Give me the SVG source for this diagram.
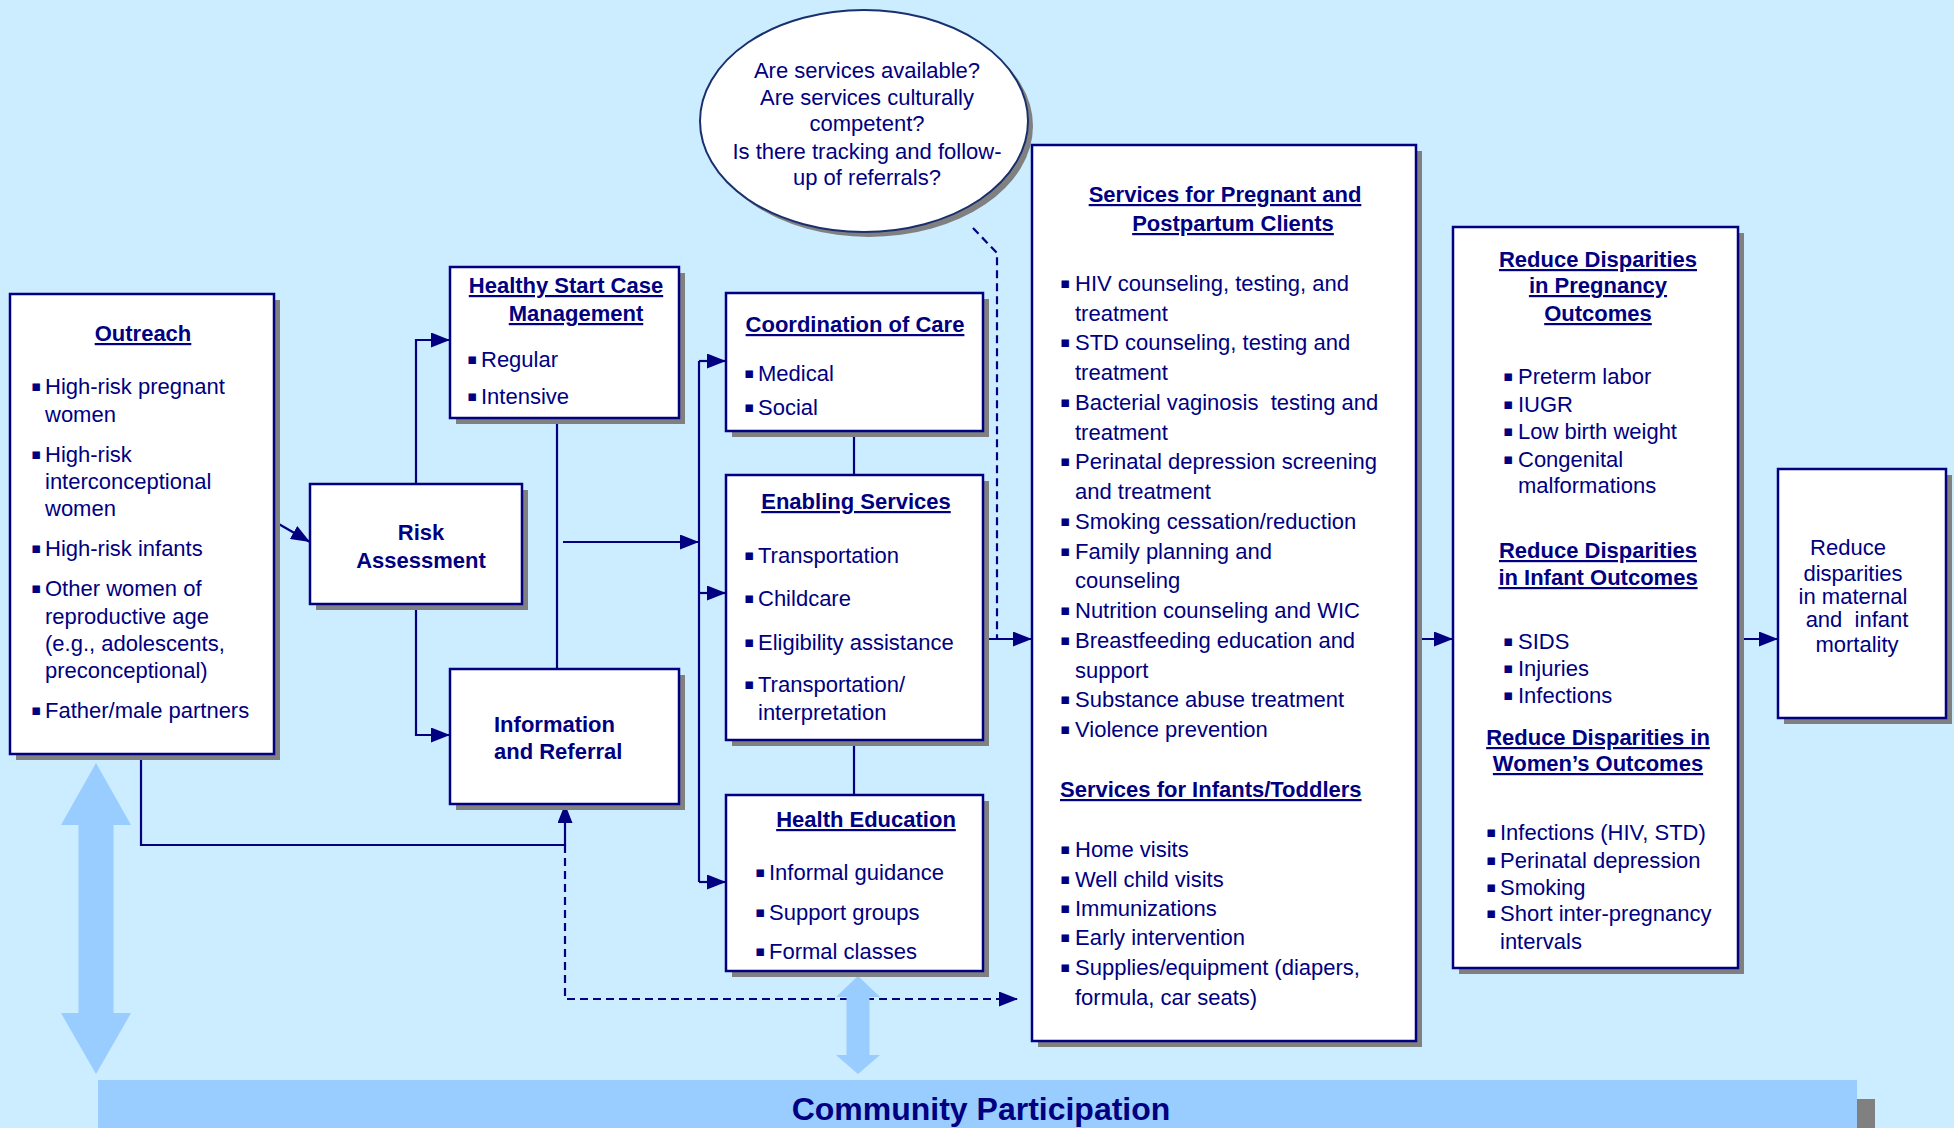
<svg xmlns="http://www.w3.org/2000/svg" width="1954" height="1128" viewBox="0 0 1954 1128">
<defs>
<style>
.box{fill:#fff;stroke:#000080;stroke-width:2.5}
.sh{fill:#808080}
.t{font-family:"Liberation Sans",Arial,sans-serif;font-size:22px;fill:#000080}
.b{font-weight:bold}
.u{text-decoration:underline}
.c{text-anchor:middle}
.bu{font-family:"DejaVu Sans",sans-serif;font-size:15px}
.ln{stroke:#000080;stroke-width:2.2;fill:none}
.da{stroke-dasharray:8 5}
.big{fill:#99CCFF}
</style>
<marker id="ah" markerUnits="userSpaceOnUse" markerWidth="19" markerHeight="15" refX="19" refY="7.5" orient="auto">
<path d="M0,0 L19,7.5 L0,15 z" fill="#000080"/>
</marker>
</defs>
<rect width="1954" height="1128" fill="#CCECFF"/>

<g id="connectors">
<line class="ln" x1="277" y1="523" x2="310" y2="542" marker-end="url(#ah)"/>
<path class="ln" d="M416,484 V340 H450" marker-end="url(#ah)"/>
<path class="ln" d="M416,604 V735 H450" marker-end="url(#ah)"/>
<path class="ln" d="M557,418 V669"/>
<path class="ln" d="M563,542 H699" marker-end="url(#ah)"/>
<path class="ln" d="M699,361 V882"/>
<path class="ln" d="M699,361 H726" marker-end="url(#ah)"/>
<path class="ln" d="M699,593 H726" marker-end="url(#ah)"/>
<path class="ln" d="M699,882 H726" marker-end="url(#ah)"/>
<path class="ln" d="M854,431 V475"/>
<path class="ln" d="M854,740 V795"/>
<path class="ln da" d="M973,228 L997,253 V639"/>
<path class="ln" d="M987,639 H1032" marker-end="url(#ah)"/>
<path class="ln" d="M1420,639 H1453" marker-end="url(#ah)"/>
<path class="ln" d="M1742,639 H1778" marker-end="url(#ah)"/>
<path class="ln" d="M141,754 V845 H565 V804" marker-end="url(#ah)"/>
<path class="ln da" d="M565,845 V999 H1018" marker-end="url(#ah)"/>
</g>

<g id="community-arrows">
<polygon class="big" points="96,763 131,825 113.5,825 113.5,1013 131,1013 96,1074 61,1013 78.5,1013 78.5,825 61,825"/>
<polygon class="big" points="858,976 880,997 869.5,997 869.5,1055 880,1055 858,1074 836,1055 846.5,1055 846.5,997 836,997"/>
</g>

<g id="outreach">
<rect class="sh" x="16" y="300" width="264" height="460"/>
<rect class="box" x="10" y="294" width="264" height="460"/>
<text class="t b u c" x="143" y="341">Outreach</text>
<text class="t"><tspan class="bu" x="31" y="391">▪</tspan><tspan x="45" y="394">High-risk pregnant</tspan><tspan x="45" y="422">women</tspan></text>
<text class="t"><tspan class="bu" x="31" y="459">▪</tspan><tspan x="45" y="462">High-risk</tspan><tspan x="45" y="489">interconceptional</tspan><tspan x="45" y="516">women</tspan></text>
<text class="t"><tspan class="bu" x="31" y="553">▪</tspan><tspan x="45" y="556">High-risk infants</tspan></text>
<text class="t"><tspan class="bu" x="31" y="593">▪</tspan><tspan x="45" y="596">Other women of</tspan><tspan x="45" y="624">reproductive age</tspan><tspan x="45" y="651">(e.g., adolescents,</tspan><tspan x="45" y="678">preconceptional)</tspan></text>
<text class="t"><tspan class="bu" x="31" y="715">▪</tspan><tspan x="45" y="718">Father/male partners</tspan></text>
</g>

<g id="risk-assessment">
<rect class="sh" x="316" y="490" width="212" height="120"/>
<rect class="box" x="310" y="484" width="212" height="120"/>
<text class="t b c" x="421" y="540">Risk</text>
<text class="t b c" x="421" y="568">Assessment</text>
</g>

<g id="healthy-start">
<rect class="sh" x="456" y="273" width="229" height="151"/>
<rect class="box" x="450" y="267" width="229" height="151"/>
<text class="t b u c" x="566" y="293">Healthy Start Case</text>
<text class="t b u c" x="576" y="321">Management</text>
<text class="t"><tspan class="bu" x="467" y="364">▪</tspan><tspan x="481" y="367">Regular</tspan></text>
<text class="t"><tspan class="bu" x="467" y="401">▪</tspan><tspan x="481" y="404">Intensive</tspan></text>
</g>

<g id="info-referral">
<rect class="sh" x="456" y="675" width="229" height="135"/>
<rect class="box" x="450" y="669" width="229" height="135"/>
<text class="t b" x="494" y="732">Information</text>
<text class="t b" x="494" y="759">and Referral</text>
</g>

<g id="coordination">
<rect class="sh" x="732" y="299" width="257" height="138"/>
<rect class="box" x="726" y="293" width="257" height="138"/>
<text class="t b u c" x="855" y="332">Coordination of Care</text>
<text class="t"><tspan class="bu" x="744" y="378">▪</tspan><tspan x="758" y="381">Medical</tspan></text>
<text class="t"><tspan class="bu" x="744" y="412">▪</tspan><tspan x="758" y="415">Social</tspan></text>
</g>

<g id="enabling">
<rect class="sh" x="732" y="481" width="257" height="265"/>
<rect class="box" x="726" y="475" width="257" height="265"/>
<text class="t b u c" x="856" y="509">Enabling Services</text>
<text class="t"><tspan class="bu" x="744" y="560">▪</tspan><tspan x="758" y="563">Transportation</tspan></text>
<text class="t"><tspan class="bu" x="744" y="603">▪</tspan><tspan x="758" y="606">Childcare</tspan></text>
<text class="t"><tspan class="bu" x="744" y="647">▪</tspan><tspan x="758" y="650">Eligibility assistance</tspan></text>
<text class="t"><tspan class="bu" x="744" y="689">▪</tspan><tspan x="758" y="692">Transportation/</tspan><tspan x="758" y="720">interpretation</tspan></text>
</g>

<g id="health-education">
<rect class="sh" x="732" y="801" width="257" height="176"/>
<rect class="box" x="726" y="795" width="257" height="176"/>
<text class="t b u c" x="866" y="827">Health Education</text>
<text class="t"><tspan class="bu" x="755" y="877">▪</tspan><tspan x="769" y="880">Informal guidance</tspan></text>
<text class="t"><tspan class="bu" x="755" y="917">▪</tspan><tspan x="769" y="920">Support groups</tspan></text>
<text class="t"><tspan class="bu" x="755" y="956">▪</tspan><tspan x="769" y="959">Formal classes</tspan></text>
</g>

<g id="questions">
<ellipse class="sh" cx="869" cy="126" rx="164" ry="111"/>
<ellipse class="box" cx="864" cy="121" rx="164" ry="111" style="stroke:#1a2f6e;stroke-width:2"/>
<text class="t c" x="867" y="78">Are services available?</text>
<text class="t c" x="867" y="105">Are services culturally</text>
<text class="t c" x="867" y="131">competent?</text>
<text class="t c" x="867" y="159">Is there tracking and follow-</text>
<text class="t c" x="867" y="185">up of referrals?</text>
</g>

<g id="services">
<rect class="sh" x="1038" y="151" width="384" height="896"/>
<rect class="box" x="1032" y="145" width="384" height="896"/>
<text class="t b u c" x="1225" y="202">Services for Pregnant and</text>
<text class="t b u c" x="1233" y="231">Postpartum Clients</text>
<g class="t">
<text class="bu" x="1060" y="288">▪</text><text x="1075" y="291">HIV counseling, testing, and</text>
<text x="1075" y="321">treatment</text>
<text class="bu" x="1060" y="347">▪</text><text x="1075" y="350">STD counseling, testing and</text>
<text x="1075" y="380">treatment</text>
<text class="bu" x="1060" y="407">▪</text><text x="1075" y="410">Bacterial vaginosis&#160; testing and</text>
<text x="1075" y="440">treatment</text>
<text class="bu" x="1060" y="466">▪</text><text x="1075" y="469">Perinatal depression screening</text>
<text x="1075" y="499">and treatment</text>
<text class="bu" x="1060" y="526">▪</text><text x="1075" y="529">Smoking cessation/reduction</text>
<text class="bu" x="1060" y="556">▪</text><text x="1075" y="559">Family planning and</text>
<text x="1075" y="588">counseling</text>
<text class="bu" x="1060" y="615">▪</text><text x="1075" y="618">Nutrition counseling and WIC</text>
<text class="bu" x="1060" y="645">▪</text><text x="1075" y="648">Breastfeeding education and</text>
<text x="1075" y="678">support</text>
<text class="bu" x="1060" y="704">▪</text><text x="1075" y="707">Substance abuse treatment</text>
<text class="bu" x="1060" y="734">▪</text><text x="1075" y="737">Violence prevention</text>
</g>
<text class="t b u" x="1060" y="797">Services for Infants/Toddlers</text>
<g class="t">
<text class="bu" x="1060" y="854">▪</text><text x="1075" y="857">Home visits</text>
<text class="bu" x="1060" y="884">▪</text><text x="1075" y="887">Well child visits</text>
<text class="bu" x="1060" y="913">▪</text><text x="1075" y="916">Immunizations</text>
<text class="bu" x="1060" y="942">▪</text><text x="1075" y="945">Early intervention</text>
<text class="bu" x="1060" y="972">▪</text><text x="1075" y="975">Supplies/equipment (diapers,</text>
<text x="1075" y="1005">formula, car seats)</text>
</g>
</g>

<g id="reduce-disparities">
<rect class="sh" x="1459" y="233" width="285" height="741"/>
<rect class="box" x="1453" y="227" width="285" height="741"/>
<text class="t b u c" x="1598" y="267">Reduce Disparities</text>
<text class="t b u c" x="1598" y="293">in Pregnancy</text>
<text class="t b u c" x="1598" y="321">Outcomes</text>
<g class="t">
<text class="bu" x="1503" y="381">▪</text><text x="1518" y="384">Preterm labor</text>
<text class="bu" x="1503" y="409">▪</text><text x="1518" y="412">IUGR</text>
<text class="bu" x="1503" y="436">▪</text><text x="1518" y="439">Low birth weight</text>
<text class="bu" x="1503" y="464">▪</text><text x="1518" y="467">Congenital</text>
<text x="1518" y="493">malformations</text>
</g>
<text class="t b u c" x="1598" y="558">Reduce Disparities</text>
<text class="t b u c" x="1598" y="585">in Infant Outcomes</text>
<g class="t">
<text class="bu" x="1503" y="646">▪</text><text x="1518" y="649">SIDS</text>
<text class="bu" x="1503" y="673">▪</text><text x="1518" y="676">Injuries</text>
<text class="bu" x="1503" y="700">▪</text><text x="1518" y="703">Infections</text>
</g>
<text class="t b u c" x="1598" y="745">Reduce Disparities in</text>
<text class="t b u c" x="1598" y="771">Women’s Outcomes</text>
<g class="t">
<text class="bu" x="1486" y="837">▪</text><text x="1500" y="840">Infections (HIV, STD)</text>
<text class="bu" x="1486" y="865">▪</text><text x="1500" y="868">Perinatal depression</text>
<text class="bu" x="1486" y="892">▪</text><text x="1500" y="895">Smoking</text>
<text class="bu" x="1486" y="918">▪</text><text x="1500" y="921">Short inter-pregnancy</text>
<text x="1500" y="949">intervals</text>
</g>
</g>

<g id="mortality">
<rect class="sh" x="1784" y="475" width="168" height="249"/>
<rect class="box" x="1778" y="469" width="168" height="249"/>
<text class="t c" x="1848" y="555">Reduce</text>
<text class="t c" x="1853" y="581">disparities</text>
<text class="t c" x="1853" y="604">in maternal</text>
<text class="t c" x="1857" y="627">and&#160; infant</text>
<text class="t c" x="1857" y="652">mortality</text>
</g>

<g id="community">
<rect class="sh" x="116" y="1099" width="1759" height="29"/>
<rect class="big" x="98" y="1080" width="1759" height="48"/>
<text class="t b c" x="981" y="1120" style="font-size:32px">Community Participation</text>
</g>
</svg>
